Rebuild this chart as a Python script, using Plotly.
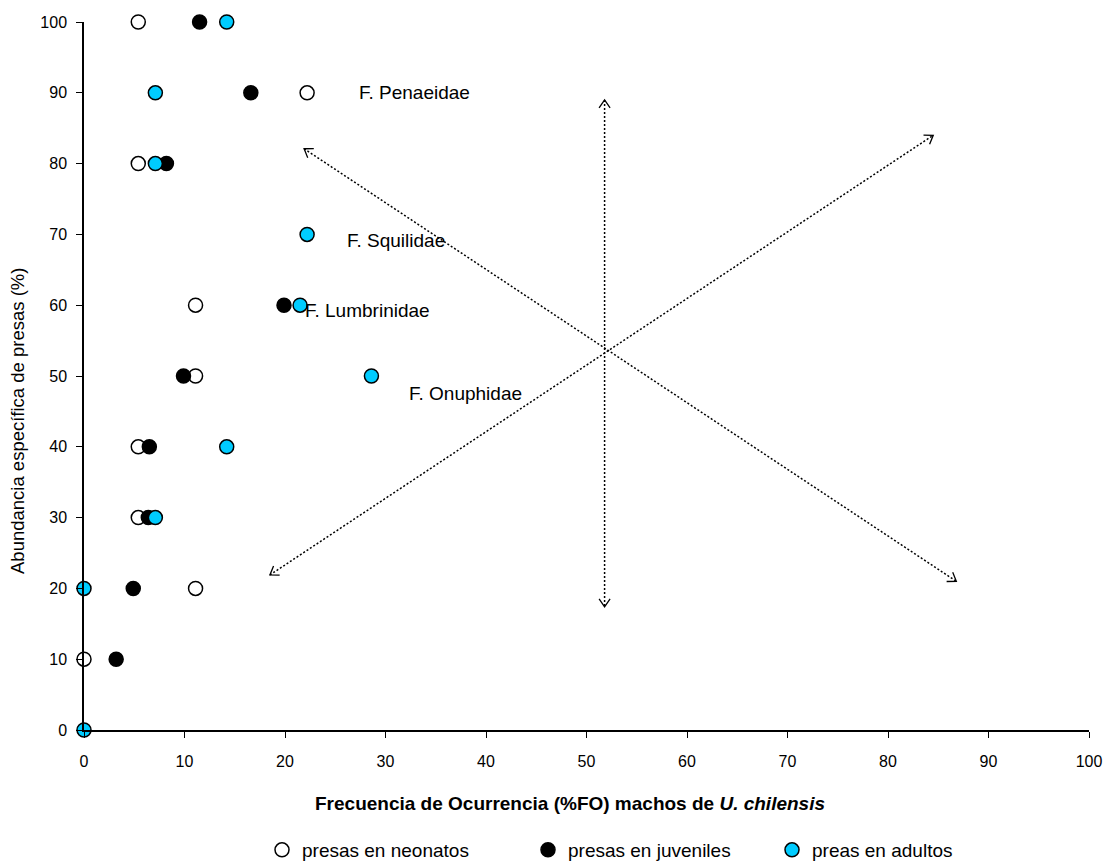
import plotly.graph_objects as go

# Frecuencia de ocurrencia (%FO) y abundancia específica (%) por grupo de edad
neonatos_fo = [5.4, 22.2, 5.4, 11.1, 11.1, 5.4, 5.4, 11.1, 0.0]
neonatos_ab = [100, 90, 80, 60, 50, 40, 30, 20, 10]

juveniles_fo = [11.5, 16.6, 8.2, 19.9, 9.9, 6.5, 6.4, 4.9, 3.2]
juveniles_ab = [100, 90, 80, 60, 50, 40, 30, 20, 10]

adultos_fo = [14.2, 7.1, 7.1, 22.2, 21.5, 28.6, 14.2, 7.1, 0.0, 0.0]
adultos_ab = [100, 90, 80, 70, 60, 50, 40, 30, 20, 0]

series_names = ["presas en neonatos", "presas en juveniles", "preas en adultos"]
tick_values = [0, 10, 20, 30, 40, 50, 60, 70, 80, 90, 100]

# Familias de presas señaladas (texto, %FO, abundancia)
familias = ["F. Penaeidae", "F. Squilidae", "F. Lumbrinidae", "F. Onuphidae"]
familias_fo = [27.2, 26.0, 21.8, 32.1]
familias_ab = [90.1, 69.2, 59.3, 47.5]

# Ejes de interpretación gráfica (doble flecha punteada)
flechas = [
    ((51.8, 89.0), (51.8, 17.4)),
    ((18.5, 21.9), (84.5, 84.0)),
    ((21.9, 82.1), (86.8, 21.0)),
]

FIG_W, FIG_H = 1115, 866
M_L, M_R, M_T, M_B = 84, 26, 22, 136
PLOT_W = FIG_W - M_L - M_R
PLOT_H = FIG_H - M_T - M_B
PX_X = PLOT_W / 100.0
PX_Y = PLOT_H / 100.0

FONT = "Liberation Sans, Arial, sans-serif"

fig = go.Figure()

colores = ["white", "black", "#00CCFF"]
datos = [(neonatos_fo, neonatos_ab), (juveniles_fo, juveniles_ab), (adultos_fo, adultos_ab)]
leyendas = ["legend", "legend2", "legend3"]

for (fo, ab), nombre, color, lg in zip(datos, series_names, colores, leyendas):
    fig.add_trace(go.Scatter(
        x=fo, y=ab, mode="markers", name=nombre, legend=lg,
        marker=dict(size=14, color=color, line=dict(color="black", width=1.5)),
        cliponaxis=False,
    ))

# Flechas: línea punteada + cabezas en V en ambos extremos
def chevron(tip, other, largo=8.0, medio=5.5):
    # dirección en píxeles desde "other" hacia "tip"
    dx = (tip[0] - other[0]) * PX_X
    dy = (tip[1] - other[1]) * PX_Y
    n = (dx ** 2 + dy ** 2) ** 0.5
    ux, uy = dx / n, dy / n
    px_, py_ = -uy, ux
    a = (tip[0] + (-largo * ux + medio * px_) / PX_X, tip[1] + (-largo * uy + medio * py_) / PX_Y)
    b = (tip[0] + (-largo * ux - medio * px_) / PX_X, tip[1] + (-largo * uy - medio * py_) / PX_Y)
    return [a[0], tip[0], b[0]], [a[1], tip[1], b[1]]

for p0, p1 in flechas:
    fig.add_trace(go.Scatter(
        x=[p0[0], p1[0]], y=[p0[1], p1[1]], mode="lines", showlegend=False, hoverinfo="skip",
        line=dict(color="black", width=1.5, dash="2px,2px"),
    ))
    for tip, other in ((p0, p1), (p1, p0)):
        cx, cy = chevron(tip, other)
        fig.add_trace(go.Scatter(
            x=cx, y=cy, mode="lines", showlegend=False, hoverinfo="skip",
            line=dict(color="black", width=1.3),
        ))

for txt, fx, fy in zip(familias, familias_fo, familias_ab):
    fig.add_annotation(x=fx, y=fy, text=txt, showarrow=False, xanchor="left", yanchor="middle",
                       font=dict(family=FONT, size=19, color="black"))

# Títulos de ejes
fig.add_annotation(xref="paper", yref="paper", x=(570 - M_L) / PLOT_W, y=-(803 - (FIG_H - M_B)) / PLOT_H,
                   text="<b>Frecuencia de Ocurrencia (%FO) machos de <i>U. chilensis</i></b>",
                   showarrow=False, xanchor="center", yanchor="middle",
                   font=dict(family=FONT, size=19, color="black"))
fig.add_annotation(xref="paper", yref="paper", x=(17 - M_L) / PLOT_W, y=((FIG_H - M_B) - 421) / PLOT_H,
                   text="Abundancia específica de presas (%)", textangle=-90,
                   showarrow=False, xanchor="center", yanchor="middle",
                   font=dict(family=FONT, size=18.5, color="black"))

axis_common = dict(
    range=[0, 100], tickvals=tick_values, ticktext=[str(v) for v in tick_values],
    showgrid=False, zeroline=False, showline=True, linecolor="black", linewidth=1.5,
    ticks="outside", ticklen=6, tickwidth=1.3, tickcolor="black",
    tickfont=dict(family=FONT, size=16, color="black"),
)
fig.update_xaxes(**axis_common, ticklabelstandoff=10)
fig.update_yaxes(**axis_common, ticklabelstandoff=6)

legend_y = -(850 - (FIG_H - M_B)) / PLOT_H
leg_common = dict(y=legend_y, yanchor="middle", xanchor="left", bgcolor="rgba(0,0,0,0)",
                  font=dict(family=FONT, size=19, color="black"), borderwidth=0)
fig.update_layout(
    width=FIG_W, height=FIG_H,
    margin=dict(l=M_L, r=M_R, t=M_T, b=M_B, autoexpand=False),
    plot_bgcolor="white", paper_bgcolor="white",
    legend=dict(x=(262 - M_L) / PLOT_W, **leg_common),
    legend2=dict(x=(528 - M_L) / PLOT_W, **leg_common),
    legend3=dict(x=(772 - M_L) / PLOT_W, **leg_common),
)

fig.write_html("out.html")
